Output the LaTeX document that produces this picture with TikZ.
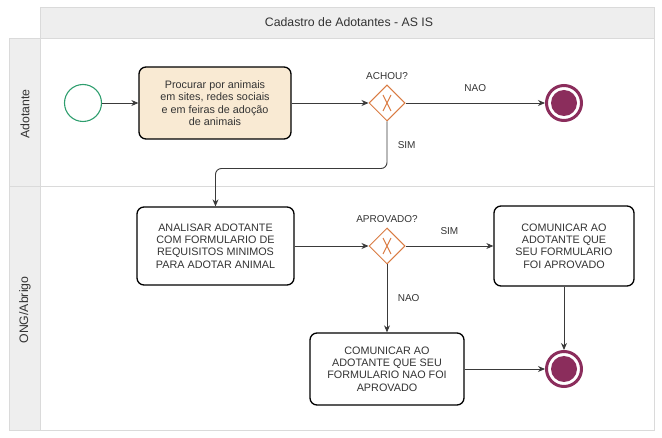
\documentclass[tikz,border=0pt]{standalone}
\usepackage{fontspec}
\setmainfont{Liberation Sans}
\usepackage{tikz}
\usetikzlibrary{shapes.geometric, arrows.meta, positioning}

\definecolor{lanefill}{HTML}{EEEEEE}
\definecolor{laneline}{HTML}{DADADA}
\definecolor{taskfill}{HTML}{F9EAD3}
\definecolor{startgreen}{HTML}{2E9E6E}
\definecolor{gateorange}{HTML}{D97B42}
\definecolor{endmaroon}{HTML}{8B2D5C}
\definecolor{flowgray}{HTML}{3A3A3A}
\definecolor{txtgray}{HTML}{333333}

\tikzset{
  task/.style={draw=black, line width=1.3pt, rounded corners=7pt, align=center,
    inner sep=0pt, text=txtgray, font=\fontsize{10.8}{12.4}\selectfont},
  gate/.style={diamond, draw=gateorange, line width=1pt, minimum size=36pt, inner sep=0pt,
    path picture={\draw[gateorange, line width=1pt, shift={(path picture bounding box.center)}]
      (-4pt,-8pt) -- (4pt,8pt) (-4pt,8pt) -- (4pt,-8pt);}},
  startev/.style={circle, draw=startgreen, line width=1.1pt, minimum size=37pt},
  endev/.style={circle, draw=endmaroon, fill=white, line width=3pt, minimum size=35pt,
    path picture={\fill[endmaroon] (path picture bounding box.center) circle (13pt);}},
  flow/.style={draw=flowgray, line width=0.9pt, -{Stealth[length=7pt,width=6pt]}},
  lbl/.style={text=txtgray, font=\fontsize{10}{12}\selectfont},
  lane/.style={text=txtgray, font=\fontsize{12.3}{14}\selectfont}
}

\begin{document}
\begin{tikzpicture}[x=1pt, y=-1pt, font=\fontsize{10.5}{12.5}\selectfont]
\useasboundingbox (0,0) rectangle (662,438);
\fill[lanefill] (40,7) rectangle (654,38);
\fill[lanefill] (9,38) rectangle (40,430);
\draw[laneline] (40,7) rectangle (654,430);
\draw[laneline] (9,38) rectangle (40,430);
\draw[laneline] (40,38) -- (654,38);
\draw[laneline] (9,186) -- (654,186);
\node[lane] (titulo) at (349,22) {Cadastro de Adotantes - AS IS};
\node[lane, rotate=90] (adotante) at (25,114) {Adotante};
\node[lane, rotate=90] (ong) at (25,310) {ONG/Abrigo};

\node[startev] (inicio) at (83,103) {};
\node[task, fill=taskfill, minimum width=152pt, minimum height=72pt] (procurar) at (215,103)
  {Procurar por animais\\em sites, redes sociais\\e em feiras de ado\c{c}\~ao\\de animais};
\node[gate] (achou) at (387,103) {};
\node[lbl, above=1pt of achou] (achoulbl) {ACHOU?};
\node[endev] (fim1) at (564,103) {};

\node[task, minimum width=157pt, minimum height=78pt] (analisar) at (215.5,246)
  {ANALISAR ADOTANTE\\COM FORMULARIO DE\\REQUISITOS MINIMOS\\PARA ADOTAR ANIMAL};
\node[gate] (aprovado) at (387,246) {};
\node[lbl, above=1pt of aprovado] (aprovadolbl) {APROVADO?};
\node[task, minimum width=140pt, minimum height=80pt] (comunicarsim) at (564,246)
  {COMUNICAR AO\\ADOTANTE QUE\\SEU FORMULARIO\\FOI APROVADO};
\node[task, minimum width=154pt, minimum height=72pt] (comunicarnao) at (387,369)
  {COMUNICAR AO\\ADOTANTE QUE SEU\\FORMULARIO NAO FOI\\APROVADO};
\node[endev] (fim2) at (564,369) {};

\draw[flow] (inicio) -- (procurar);
\draw[flow] (procurar) -- (achou);
\draw[flow] (achou) -- node[lbl, above=8pt] (naolbl) {NAO} (fim1);
\draw[flow, rounded corners=6pt] (achou.south) -- node[lbl, right=7pt] (simlbl) {SIM} ++(0,47) -| (analisar.north);
\draw[flow] (analisar) -- (aprovado);
\draw[flow] (aprovado) -- node[lbl, above=8pt] (sim2lbl) {SIM} (comunicarsim);
\draw[flow] (aprovado) -- node[lbl, right=7pt] (nao2lbl) {NAO} (comunicarnao);
\draw[flow] (comunicarsim) -- (fim2);
\draw[flow] (comunicarnao) -- (fim2);
\end{tikzpicture}
\end{document}
